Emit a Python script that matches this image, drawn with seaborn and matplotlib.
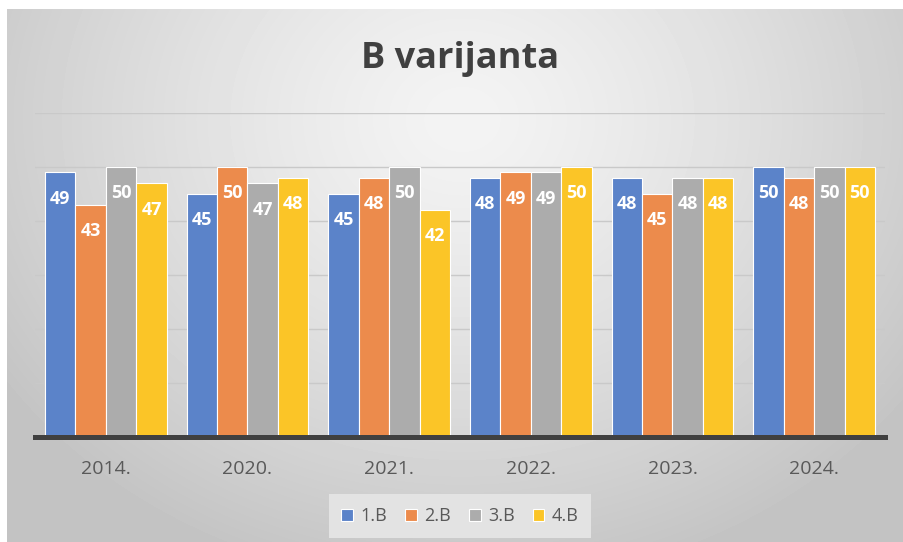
import numpy as np
import pandas as pd
import matplotlib
matplotlib.use('Agg')
import matplotlib.pyplot as plt
import seaborn as sns

# ------------------------------------------------------------
# data
# ------------------------------------------------------------
years = ['2014.', '2020.', '2021.', '2022.', '2023.', '2024.']
classes = ['1.B', '2.B', '3.B', '4.B']
b1 = [49, 45, 45, 48, 48, 50]
b2 = [43, 50, 48, 49, 45, 48]
b3 = [50, 47, 50, 49, 48, 50]
b4 = [47, 48, 42, 50, 48, 50]
colors = ['#5b83c9', '#ec8b4c', '#acacac', '#fbc527']

series = {'1.B': b1, '2.B': b2, '3.B': b3, '4.B': b4}
df = pd.DataFrame([
    {'year': y, 'class': c, 'value': series[c][i]}
    for c in classes for i, y in enumerate(years)
])

# ------------------------------------------------------------
# style
# ------------------------------------------------------------
sns.set_style('white')
plt.rcParams['font.family'] = ['Open Sans', 'DejaVu Sans']

W, H = 904, 542
fig = plt.figure(figsize=(W / 100, H / 100), dpi=100)
fig.patch.set_facecolor('white')

# radial gradient background (Excel-like chart area)
bg = fig.add_axes([7 / W, 0, 1 - 7 / W, 1 - 9 / H])
bg.axis('off')
gy, gx = np.mgrid[0:533, 0:897]
r = np.sqrt(((gx - 455) / 1.0) ** 2 + ((gy - 110) / 0.85) ** 2)
r = np.clip(r / 560, 0, 1)
shade = 0.955 - 0.19 * r ** 1.3
bg.imshow(shade, cmap='gray', vmin=0, vmax=1, aspect='auto', interpolation='bilinear')

# main plot area
ax = fig.add_axes([35 / W, 1 - 436.5 / H, (885 - 35) / W, (436.5 - 113) / H])
ax.set_facecolor('none')

sns.barplot(data=df, x='year', y='value', hue='class', palette=colors,
            width=0.86, saturation=1, edgecolor='white', linewidth=0.8,
            ax=ax, legend=True)

ax.set_ylim(0, 60)
ax.set_yticks(range(0, 61, 10))
ax.set_yticklabels([])
ax.yaxis.grid(True, color='#c9c9c9', linewidth=1)
ax.set_axisbelow(True)
ax.tick_params(axis='both', length=0)
ax.tick_params(axis='x', pad=17, labelsize=14, labelcolor='#595959')
ax.set_xlabel('')
ax.set_ylabel('')
for s in ['top', 'right', 'left']:
    ax.spines[s].set_visible(False)
ax.spines['bottom'].set_color('#404040')
ax.spines['bottom'].set_linewidth(3.6)
ax.spines['bottom'].set_zorder(5)

# value labels inside bars
for cont in ax.containers:
    for bar in cont:
        h = bar.get_height()
        ax.text(bar.get_x() + bar.get_width() / 2, h - 4.9, f'{h:.0f}',
                ha='center', va='center', color='white',
                fontsize=13, fontweight='bold')

# title
fig.text(460 / W, 1 - 59 / H, 'B varijanta', ha='center', va='center',
         fontsize=26, fontweight='bold', color='#404040')

# legend
leg = ax.legend(loc='center', bbox_to_anchor=(460 / W, 1 - 516 / H),
                bbox_transform=fig.transFigure, ncol=4, frameon=True,
                fontsize=13, handlelength=0.65, handleheight=0.65,
                handletextpad=0.4, columnspacing=1.0, borderpad=0.7)
leg.get_frame().set_facecolor('#e3e3e3')
leg.get_frame().set_edgecolor('none')
leg.get_frame().set_alpha(1)
leg.get_frame().set_boxstyle('square', pad=0)
for t in leg.get_texts():
    t.set_color('#595959')

plt.savefig('out.png', dpi=100)
plt.close()
